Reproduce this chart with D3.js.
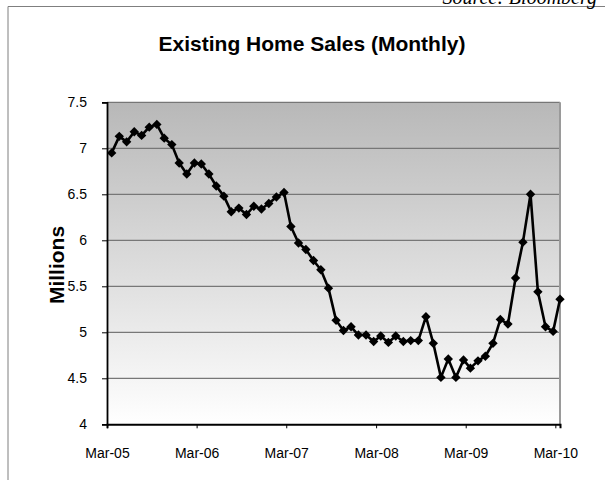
<!DOCTYPE html>
<html lang="en">
<head>
<meta charset="UTF-8">
<title>Existing Home Sales (Monthly)</title>
<script src="https://d3js.org/d3.v7.min.js"></script>
<style>
  body { margin: 0; background: #fff; }
  svg { display: block; font-family: "Liberation Sans", Arial, sans-serif; }
</style>
</head>
<body>
<svg id="chart" width="605" height="480"></svg>
<script>
  // existing home sales, millions (SAAR), Mar-05 .. Mar-10
  const firstMonth = "2005-03";
  const sales = [
    6.95, 7.13, 7.07, 7.18, 7.14, 7.23, 7.26, 7.11, 7.04, 6.84, 6.72, 6.84,
    6.83, 6.72, 6.59, 6.48, 6.31, 6.35, 6.28, 6.37, 6.34, 6.40, 6.47, 6.52,
    6.15, 5.97, 5.90, 5.78, 5.68, 5.48, 5.13, 5.02, 5.06, 4.97, 4.97, 4.90,
    4.96, 4.89, 4.96, 4.90, 4.91, 4.91, 5.17, 4.88, 4.51, 4.71, 4.51, 4.70,
    4.61, 4.69, 4.74, 4.88, 5.14, 5.09, 5.59, 5.98, 6.50, 5.44, 5.06, 5.01,
    5.36
  ];
  const xTickLabels = ["Mar-05", "Mar-06", "Mar-07", "Mar-08", "Mar-09", "Mar-10"];
  const yTicks = [4, 4.5, 5, 5.5, 6, 6.5, 7, 7.5];

  const plot = { left: 107, right: 560, top: 102.3, bottom: 424.3 };

  const svg = d3.select("#chart");

  // points sit a few weeks after the month tick (month-end style dates)
  const start = d3.timeParse("%Y-%m-%d")(firstMonth + "-20");
  const data = sales.map((v, i) => ({ date: d3.timeMonth.offset(start, i), value: v }));

  const parseTick = d3.timeParse("%b-%y");
  const tickDates = xTickLabels.map(parseTick);

  const x = d3.scaleTime()
    .domain([tickDates[0], data[data.length - 1].date])
    .range([plot.left, plot.right]);
  const y = d3.scaleLinear().domain([4, 7.5]).range([plot.bottom, plot.top]);

  // outer frame (only top and left visible)
  svg.append("path")
    .attr("d", "M8,480 L8,6.5 L605,6.5")
    .attr("fill", "none")
    .attr("stroke", "#7f7f7f")
    .attr("stroke-width", 1);

  svg.append("text")
    .attr("x", 597)
    .attr("y", 4)
    .attr("text-anchor", "end")
    .style("font-family", "'Liberation Serif', 'Times New Roman', serif")
    .style("font-style", "italic")
    .style("font-size", "20px")
    .text("Source: Bloomberg");

  // plot background gradient
  const grad = svg.append("defs").append("linearGradient")
    .attr("id", "bg").attr("x1", 0).attr("y1", 0).attr("x2", 0).attr("y2", 1);
  grad.append("stop").attr("offset", "0%").attr("stop-color", "#b8b8b8");
  grad.append("stop").attr("offset", "100%").attr("stop-color", "#ffffff");

  svg.append("rect")
    .attr("x", plot.left).attr("y", plot.top)
    .attr("width", plot.right - plot.left)
    .attr("height", plot.bottom - plot.top)
    .attr("fill", "url(#bg)");

  // gridlines
  svg.append("g").selectAll("line")
    .data(yTicks.filter(d => d > 4))
    .join("line")
    .attr("x1", plot.left).attr("x2", plot.right)
    .attr("y1", d => y(d)).attr("y2", d => y(d))
    .attr("stroke", "#777")
    .attr("stroke-width", 1.2);

  // right border of plot
  svg.append("line")
    .attr("x1", plot.right).attr("x2", plot.right)
    .attr("y1", plot.top).attr("y2", plot.bottom)
    .attr("stroke", "#9a9a9a")
    .attr("stroke-width", 2);

  // y axis
  const yAxis = svg.append("g")
    .attr("transform", `translate(${plot.left},0)`)
    .call(d3.axisLeft(y).tickValues(yTicks).tickSize(5).tickPadding(15)
      .tickFormat(d3.format("")));
  yAxis.select(".domain").attr("stroke", "#000").attr("stroke-width", 1.8);
  yAxis.selectAll(".tick line").attr("stroke", "#000");
  yAxis.selectAll("text")
    .style("font-family", "'Liberation Sans', Arial, sans-serif")
    .style("font-size", "14px")
    .attr("fill", "#000");

  // x axis
  const xAxis = svg.append("g")
    .attr("transform", `translate(0,${plot.bottom})`)
    .call(d3.axisBottom(x).tickValues(tickDates).tickSize(4).tickPadding(20)
      .tickFormat((d, i) => xTickLabels[i]));
  xAxis.select(".domain").attr("stroke", "#000").attr("stroke-width", 2);
  xAxis.selectAll(".tick line").attr("stroke", "#000");
  xAxis.selectAll("text")
    .style("font-family", "'Liberation Sans', Arial, sans-serif")
    .style("font-size", "14px")
    .attr("fill", "#000");

  // series line
  const line = d3.line().x(d => x(d.date)).y(d => y(d.value));
  svg.append("path")
    .datum(data)
    .attr("d", line)
    .attr("fill", "none")
    .attr("stroke", "#000")
    .attr("stroke-width", 2.6)
    .attr("stroke-linejoin", "round");

  // diamond markers
  svg.append("g").selectAll("path")
    .data(data)
    .join("path")
    .attr("d", d3.symbol(d3.symbolSquare, 44))
    .attr("transform", d => `translate(${x(d.date)},${y(d.value)}) rotate(45)`)
    .attr("fill", "#000");

  // title and axis title
  svg.append("text")
    .attr("x", 312)
    .attr("y", 51)
    .attr("text-anchor", "middle")
    .style("font-weight", "bold")
    .style("font-size", "21px")
    .text("Existing Home Sales (Monthly)");

  svg.append("text")
    .attr("transform", "translate(64,265) rotate(-90)")
    .attr("text-anchor", "middle")
    .style("font-weight", "bold")
    .style("font-size", "21px")
    .text("Millions");
</script>
</body>
</html>
